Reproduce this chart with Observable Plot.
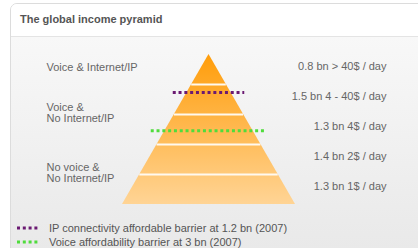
<!DOCTYPE html>
<html>
<head>
<meta charset="utf-8">
<script src="https://cdn.jsdelivr.net/npm/d3@7"></script>
<script src="https://cdn.jsdelivr.net/npm/@observablehq/plot@0.6"></script>
<style>
  html, body { margin: 0; padding: 0; background: #fff; width: 418px; height: 248px; overflow: hidden; font-family: "Liberation Sans", Arial, sans-serif; }
  #panel { position: absolute; left: 10px; top: 3px; width: 420px; height: 260px; border: 1px solid #dcdcdc; border-top-left-radius: 7px; overflow: hidden;
           background: linear-gradient(#ffffff 0px, #ffffff 32px, #f8f8f8 33px, #e9e9e9 245px); }
  #title { position: absolute; left: 0; top: 0; width: 100%; height: 32px; border-bottom: 1px solid #e4e4e4; background: #fff; }
  #title span { position: absolute; left: 9px; top: 9px; font-size: 11px; font-weight: bold; color: #555; }
  #chart { position: absolute; left: 0px; top: 33px; }
  #legend { position: absolute; left: 6px; top: 217px; font-size: 11px; color: #555; }
  .item { height: 14px; line-height: 14px; display: flex; align-items: center; }
  .item svg { margin-right: 9px; }
</style>
</head>
<body>
<div id="panel">
  <div id="title"><span>The global income pyramid</span></div>
  <div id="chart"></div>
  <div id="legend"></div>
</div>
<script>
// Income bands, top to bottom
const bandLabels = ["0.8 bn > 40$ / day", "1.5 bn 4 - 40$ / day", "1.3 bn 4$ / day", "1.4 bn 2$ / day", "1.3 bn 1$ / day"];
const bandPopulation = [0.8, 1.5, 1.3, 1.4, 1.3]; // billions

// Left-hand group labels and the bands they span (first band index, last band index)
const groupLabels = ["Voice & Internet/IP", "Voice &\nNo Internet/IP", "No voice &\nNo Internet/IP"];
const groupFirstBand = [0, 1, 3];
const groupLastBand = [0, 2, 4];

// Affordability barriers
const barrierLabels = ["IP connectivity affordable barrier at 1.2 bn (2007)", "Voice affordability barrier at 3 bn (2007)"];
const barrierValues = [1.2, 3]; // billions of people, counted from the top
const barrierColors = ["#6b1a72", "#4fdc3c"];

const nBands = bandLabels.length;
const cum = d3.cumsum([0, ...bandPopulation]);
// map a population count (from the top) to a pyramid level (band units)
function level(v) {
  const i = Math.min(nBands - 1, d3.bisectRight(cum, v) - 1);
  return i + (v - cum[i]) / bandPopulation[i];
}
const halfWidth = (l) => l / nBands;

const bandPts = [];
bandLabels.forEach((b, i) => {
  bandPts.push({band: i, y: i, hw: halfWidth(i)});
  bandPts.push({band: i, y: i + 1, hw: halfWidth(i + 1)});
});
const bands = bandLabels.map((label, i) => ({label, y: i + 0.5}));
const groups = groupLabels.map((label, i) => ({label, y: (groupFirstBand[i] + groupLastBand[i] + 1) / 2}));
const separators = d3.range(1, nBands);
const barriers = barrierValues.map((v, i) => ({label: barrierLabels[i], y: level(v), color: barrierColors[i]}));
const ext = 0.16;

const plot = Plot.plot({
  width: 408,
  height: 180,
  marginLeft: 111,
  marginRight: 124,
  marginTop: 17,
  marginBottom: 13,
  x: {domain: [-1, 1], axis: null},
  y: {domain: [0, nBands], reverse: true, axis: null},
  style: {background: "transparent", fontFamily: "'Liberation Sans', Arial, sans-serif", fontSize: "11px"},
  marks: [
    Plot.areaX(bandPts, {y: "y", x1: d => -d.hw, x2: d => d.hw, z: "band", fill: "url(#pyrGrad)", curve: "linear"}),
    Plot.ruleY(separators, {y: d => d, x1: d => -halfWidth(d), x2: d => halfWidth(d), stroke: "#fff9f0", strokeWidth: 2}),
    Plot.ruleY(barriers, {y: "y", x1: d => -(halfWidth(d.y) + ext), x2: d => halfWidth(d.y) + ext, stroke: d => d.color, strokeWidth: 3, strokeDasharray: "3,2.8"}),
    Plot.text(bands, {y: "y", text: "label", frameAnchor: "right", dx: 91, dy: -3, textAnchor: "end", fill: "#666", fontSize: 11}),
    Plot.text(groups, {y: "y", text: "label", frameAnchor: "left", dx: -76, dy: -2, textAnchor: "start", fill: "#666", fontSize: 11, lineHeight: 1})
  ]
});

// vertical gradient across the whole pyramid
const ys = plot.scale("y");
const defs = d3.create("svg:defs");
const g = defs.append("linearGradient").attr("id", "pyrGrad").attr("gradientUnits", "userSpaceOnUse")
  .attr("x1", 0).attr("x2", 0).attr("y1", ys.apply(0)).attr("y2", ys.apply(nBands));
g.append("stop").attr("offset", "0%").attr("stop-color", "#ff9d0a");
g.append("stop").attr("offset", "100%").attr("stop-color", "#ffd495");
plot.insertBefore(defs.node(), plot.firstChild);
document.getElementById("chart").appendChild(plot);

// legend
const leg = d3.select("#legend");
barriers.forEach(b => {
  const it = leg.append("div").attr("class", "item");
  const s = it.append("svg").attr("width", 23).attr("height", 6);
  s.append("line").attr("x1", 0).attr("x2", 23).attr("y1", 3).attr("y2", 3)
    .attr("stroke", b.color).attr("stroke-width", 3).attr("stroke-dasharray", "3,2.8");
  it.append("span").text(b.label);
});
</script>
</body>
</html>
